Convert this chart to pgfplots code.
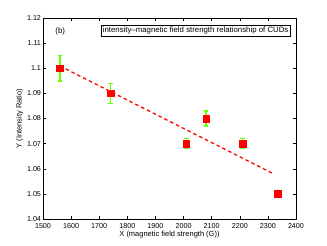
\documentclass[border=0pt]{standalone}
\usepackage{pgfplots}
\pgfplotsset{compat=1.18}
\usepackage{fontspec}
\setmainfont{Liberation Sans}
\definecolor{errgreen}{RGB}{102,255,0}
\begin{document}
\begin{tikzpicture}
\useasboundingbox (-43bp,-27bp) rectangle (284bp,219bp);
\begin{axis}[
  at={(0,0)}, anchor=south west,
  scale only axis,
  width=253bp, height=201bp,
  xmin=1500, xmax=2400, ymin=1.04, ymax=1.12,
  xtick={1500,1600,...,2400},
  ytick={1.04,1.05,1.06,1.07,1.08,1.09,1.10,1.11,1.12},
  tick align=inside,
  major tick length=3bp,
  tick style={black, line width=0.4pt},
  axis line style={black, line width=0.6pt},
  ticklabel style={font=\fontsize{7.2}{8}\selectfont},
  yticklabel style={xshift=1.5bp},
  xticklabel style={yshift=-0.5bp},
  /pgf/number format/assume math mode=true,
  /pgf/number format/1000 sep={},
  /pgf/number format/fixed,
  /pgf/number format/precision=2,
  scaled y ticks=false,
  xlabel={X (magnetic field strength (G))},
  ylabel={Y (Intensity Ratio)},
  label style={font=\fontsize{7.5}{8}\selectfont},
  xlabel style={yshift=4bp},
  ylabel style={yshift=-3bp},
  clip=false,
]
\addplot[draw=none, mark=none,
  error bars/.cd, y dir=both, y explicit,
  error bar style={errgreen, line width=1.5pt},
  error mark options={errgreen, line width=1.5pt, mark size=2.2bp, rotate=90}]
  coordinates {
  (1560,1.100) +- (0,0.005)
  (1740,1.090) +- (0,0.004)
  (2010,1.070) +- (0,0.002)
  (2080,1.080) +- (0,0.003)
  (2210,1.070) +- (0,0.002)
  (2335,1.050) +- (0,0.0006)
  };
\addplot[red, line width=1.3pt, dash pattern=on 3.5bp off 3bp, mark=none]
  coordinates {(1560,1.1009) (2320,1.0580)};
\addplot[only marks, mark=square*, mark size=3.3bp, mark options={fill=red, draw=red}]
  coordinates {
  (1560,1.100)
  (1740,1.090)
  (2010,1.070)
  (2080,1.080)
  (2210,1.070)
  (2335,1.050)
  };
\node[draw=black, line width=0.4pt, fill=white, inner sep=1.8bp, anchor=north east,
  font=\fontsize{7.85}{8}\selectfont] at (rel axis cs:0.978,0.965)
  {intensity–magnetic field strength relationship of CUDs};
\node[anchor=west, font=\fontsize{8}{9}\selectfont] at (rel axis cs:0.035,0.935) {(b)};
\end{axis}
\end{tikzpicture}
\end{document}
